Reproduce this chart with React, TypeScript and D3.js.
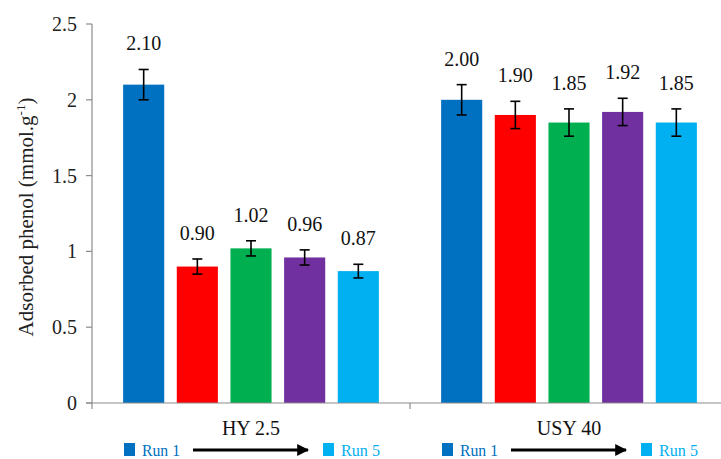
import React from "react";
import * as d3 from "d3";

const categories = ["HY 2.5", "USY 40"];
const runs = ["Run 1", "Run 2", "Run 3", "Run 4", "Run 5"];
const hyValues = [2.1, 0.9, 1.02, 0.96, 0.87];
const usyValues = [2.0, 1.9, 1.85, 1.92, 1.85];
const hyErrors = [0.1, 0.05, 0.05, 0.05, 0.045];
const usyErrors = [0.1, 0.09, 0.09, 0.09, 0.09];
const valueLabels = [
  ["2.10", "0.90", "1.02", "0.96", "0.87"],
  ["2.00", "1.90", "1.85", "1.92", "1.85"],
];
const runColors = ["#0070C0", "#FF0000", "#00B050", "#7030A0", "#00B0F0"];
const yTicks = [0, 0.5, 1, 1.5, 2, 2.5];
const yTickLabels = ["0", "0.5", "1", "1.5", "2", "2.5"];

const W = 721;
const H = 459;
const ts = { fontFamily: '"Liberation Serif"' };

export default function App() {
  const axisX = 92;
  const catW = 318;
  const y = d3.scaleLinear().domain([0, 2.5]).range([403, 24]);
  const x0 = d3.scaleBand<string>().domain(categories).range([axisX, axisX + catW * 2]);
  const x1 = d3
    .scaleBand<string>()
    .domain(runs)
    .range([0, x0.bandwidth()])
    .paddingInner(0.234)
    .paddingOuter(0.58);

  const seriesValues = [hyValues, usyValues];
  const seriesErrors = [hyErrors, usyErrors];
  const capHalf = 5;
  const axisColor = "#8c8c8c";

  return (
    <svg width={W} height={H} style={{ position: "absolute", left: 0, top: 0, background: "#fff" }}>
      <defs>
        <marker id="arrowHead" viewBox="0 0 10 10" refX="9" refY="5" markerWidth="4" markerHeight="4" orient="auto">
          <path d="M0,0 L10,5 L0,10 z" fill="#000" />
        </marker>
      </defs>
      {categories.map((cat, ci) => (
        <g key={cat} transform={`translate(${x0(cat)},0)`}>
          {runs.map((r, ri) => {
            const v = seriesValues[ci][ri];
            const e = seriesErrors[ci][ri];
            const bx = x1(r)!;
            const bw = x1.bandwidth();
            const cx = bx + bw / 2;
            return (
              <g key={r}>
                <rect x={bx} y={y(v)} width={bw} height={y(0) - y(v)} fill={runColors[ri]} />
                <line x1={cx} x2={cx} y1={y(v + e)} y2={y(v - e)} stroke="#000" strokeWidth={1.6} />
                <line x1={cx - capHalf} x2={cx + capHalf} y1={y(v + e)} y2={y(v + e)} stroke="#000" strokeWidth={1.6} />
                <line x1={cx - capHalf} x2={cx + capHalf} y1={y(v - e)} y2={y(v - e)} stroke="#000" strokeWidth={1.6} />
                <text x={cx} y={y(v + e) - 19} textAnchor="middle" fontSize={20} fill="#111" style={ts}>
                  {valueLabels[ci][ri]}
                </text>
              </g>
            );
          })}
        </g>
      ))}
      <line x1={axisX} x2={axisX} y1={y(2.5)} y2={y(0)} stroke={axisColor} strokeWidth={1.2} />
      {yTicks.map((t, i) => (
        <g key={t}>
          <line x1={axisX - 6} x2={axisX} y1={y(t)} y2={y(t)} stroke={axisColor} strokeWidth={1.2} />
          <text x={77} y={y(t)} dy="0.35em" textAnchor="end" fontSize={20} fill="#222" style={ts}>
            {yTickLabels[i]}
          </text>
        </g>
      ))}
      <line x1={axisX - 6} x2={axisX + catW * 2} y1={y(0)} y2={y(0)} stroke={axisColor} strokeWidth={1.2} />
      {[...categories.map((c) => x0(c)!), axisX + catW * 2].map((tx, i) => (
        <line key={i} x1={tx} x2={tx} y1={y(0)} y2={y(0) + 6} stroke={axisColor} strokeWidth={1.2} />
      ))}
      {categories.map((cat) => {
        const sx = x0(cat)!;
        return (
          <g key={cat}>
            <text x={sx + x0.bandwidth() / 2} y={435} textAnchor="middle" fontSize={20} fill="#111" style={ts}>
              {cat}
            </text>
            <rect x={sx + 32} y={443} width={11} height={13} fill={runColors[0]} />
            <text x={sx + 50} y={456} fontSize={16} fill={runColors[0]} textLength={38} lengthAdjust="spacingAndGlyphs" style={ts}>
              {runs[0]}
            </text>
            <line x1={sx + 101} x2={sx + 216} y1={450} y2={450} stroke="#000" strokeWidth={3} markerEnd="url(#arrowHead)" />
            <rect x={sx + 231} y={443} width={11} height={13} fill={runColors[4]} />
            <text x={sx + 249} y={456} fontSize={16} fill={runColors[4]} textLength={39} lengthAdjust="spacingAndGlyphs" style={ts}>
              {runs[4]}
            </text>
          </g>
        );
      })}
      <text transform="translate(33, 217) rotate(-90)" textAnchor="middle" fontSize={21} fill="#222" style={ts}>
        Adsorbed phenol (mmol.g
        <tspan fontSize={13} dy={-8}>-1</tspan>
        <tspan dy={8}>)</tspan>
      </text>
    </svg>
  );
}
